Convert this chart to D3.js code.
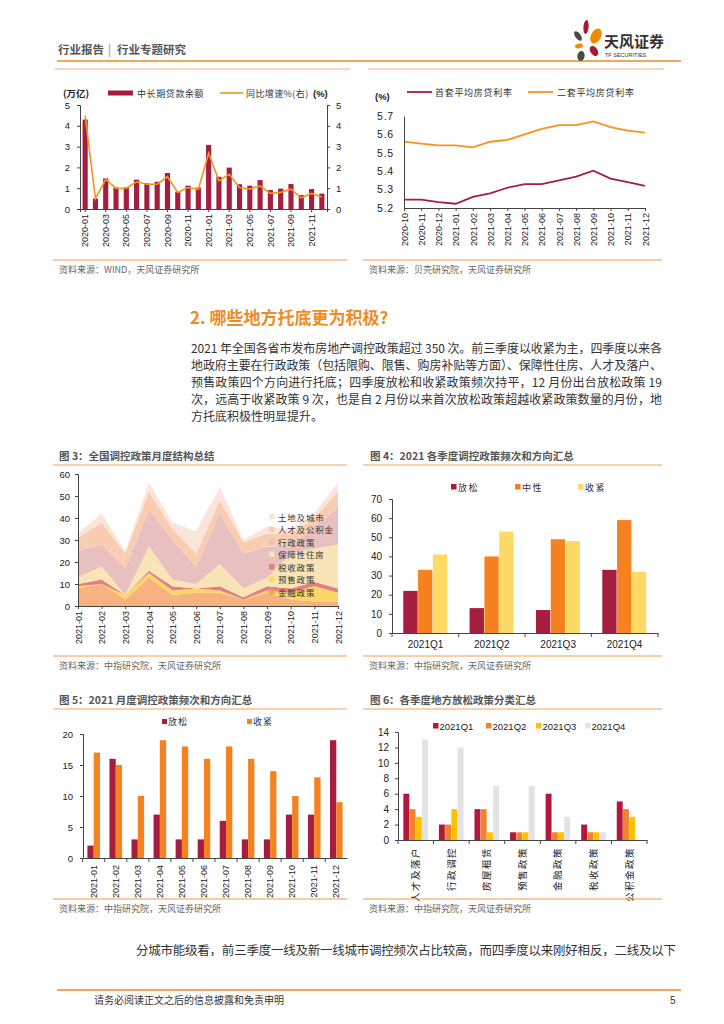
<!DOCTYPE html>
<html><head><meta charset="utf-8">
<script src="https://cdnjs.cloudflare.com/ajax/libs/d3/7.8.5/d3.min.js"></script>
<style>body{margin:0;background:#fff}svg{display:block}</style>
</head><body><svg id="c" width="724" height="1024"></svg>
<script>
// ===== DATA =====
const months1 = ["2020-01","2020-02","2020-03","2020-04","2020-05","2020-06","2020-07","2020-08","2020-09","2020-10","2020-11","2020-12","2021-01","2021-02","2021-03","2021-04","2021-05","2021-06","2021-07","2021-08","2021-09","2021-10","2021-11","2021-12"];
const xLabels1 = ["2020-01","2020-03","2020-05","2020-07","2020-09","2020-11","2021-01","2021-03","2021-05","2021-07","2021-09","2021-11"];
const loanBalance = [4.3,0.5,1.47,1.04,1.04,1.41,1.23,1.31,1.73,0.83,1.12,1.03,3.08,1.55,1.99,1.19,1.12,1.39,0.91,0.98,1.2,0.67,0.96,0.74];
const loanGrowth = [4.49,0.5,1.43,0.99,1.0,1.31,1.19,1.19,1.55,0.8,1.03,0.95,2.68,1.36,1.67,1.03,0.96,1.11,0.75,0.8,0.95,0.54,0.75,0.58];
const yTicks1 = [0,1,2,3,4,5];

const months2 = ["2020-10","2020-11","2020-12","2021-01","2021-02","2021-03","2021-04","2021-05","2021-06","2021-07","2021-08","2021-09","2021-10","2021-11","2021-12"];
const firstRate = [5.245,5.245,5.232,5.223,5.26,5.28,5.31,5.33,5.33,5.35,5.37,5.403,5.36,5.34,5.32];
const secondRate = [5.561,5.55,5.54,5.54,5.53,5.56,5.57,5.60,5.63,5.65,5.65,5.671,5.64,5.62,5.61];
const yTicks2 = [5.2,5.3,5.4,5.5,5.6,5.7];

const months3 = ["2021-01","2021-02","2021-03","2021-04","2021-05","2021-06","2021-07","2021-08","2021-09","2021-10","2021-11","2021-12"];
const policyTypes = ["金融政策","预售政策","税收政策","保障性住房","行政政策","人才及公积金","土地及城市"];
const finance = [8,10,3,13,5,6,6,3,6,3,2,2];
const presale = [1,0,2,2,2,2,1,0,1,3,7,4];
const tax = [1,2,0,1,2,0,2,1,2,2,2,2];
const housing = [3,6,0,11,3,2,10,4,4,16,15,20];
const admin = [12,10,12,17,18,8,23,16,14,3,10,17];
const talent = [6,10,7,8,5,6,6,5,6,6,4,7];
const land = [2,4,1,4,3,10,6,1,3,2,2,4];
const yTicks3 = [0,10,20,30,40,50,60];

const quarters = ["2021Q1","2021Q2","2021Q3","2021Q4"];
const directions = ["放松","中性","收紧"];
const loosen4 = [22,13,12,33];
const neutral4 = [33,40,49,59];
const tighten4 = [41,53,48,32];
const yTicks4 = [0,10,20,30,40,50,60,70];

const directions5 = ["放松","收紧"];
const loosen5 = [2,16,3,7,3,3,6,3,3,7,7,19];
const tighten5 = [17,15,10,19,18,16,18,16,14,10,13,9];
const yTicks5 = [0,5,10,15,20];

const categories6 = ["人才及落户","行政调控","房屋租赁","预售政策","金融政策","税收政策","公积金政策"];
const seasons6 = ["2021Q1","2021Q2","2021Q3","2021Q4"];
const q1_6 = [6,2,4,1,6,2,5];
const q2_6 = [4,2,4,1,1,1,4];
const q3_6 = [3,4,1,1,1,1,3];
const q4_6 = [13,12,7,7,3,1,0];
const yTicks6 = [0,2,4,6,8,10,12,14];

const paragraph = [
 "2021 年全国各省市发布房地产调控政策超过 350 次。前三季度以收紧为主，四季度以来各",
 "地政府主要在行政政策（包括限购、限售、购房补贴等方面）、保障性住房、人才及落户、",
 "预售政策四个方向进行托底；四季度放松和收紧政策频次持平，12 月份出台放松政策 19",
 "次，远高于收紧政策 9 次，也是自 2 月份以来首次放松政策超越收紧政策数量的月份，地",
 "方托底积极性明显提升。"
];

// ===== STYLE =====
const CN = '"Noto Sans CJK SC","Liberation Sans",sans-serif';
const NUM = '"Liberation Sans","Noto Sans CJK SC",sans-serif';
const CRIMSON = "#A51E3F", ORANGE = "#F5821F", LINE_OR = "#F7931E";
const svg = d3.select("#c");

function txt(x, y, s, size, opts = {}) {
  const t = svg.append("text").attr("x", x).attr("y", y).text(s)
    .style("font-family", opts.font || CN).style("font-size", size + "px")
    .attr("fill", opts.fill || "#333");
  if (opts.weight) t.style("font-weight", opts.weight);
  if (opts.anchor) t.attr("text-anchor", opts.anchor);
  if (opts.ls) t.style("letter-spacing", opts.ls + "px");
  if (opts.len) t.attr("textLength", opts.len).attr("lengthAdjust", "spacing");
  return t;
}
function hline(x1, x2, y, color, w) {
  svg.append("line").attr("x1", x1).attr("x2", x2).attr("y1", y).attr("y2", y)
    .attr("stroke", color).attr("stroke-width", w);
}
function styleAxis(g, size) {
  g.select(".domain").attr("stroke", "#444");
  g.selectAll(".tick line").attr("stroke", "#444");
  g.selectAll("text").attr("fill", "#222").style("font-family", NUM).style("font-size", (size || 9.5) + "px");
}
function rotateLabels(g, off) {
  g.selectAll("text").attr("transform", "rotate(-90)").attr("text-anchor", "end")
    .attr("x", -off).attr("y", 0).attr("dy", "0.35em");
}

// ===== HEADER =====
txt(58, 54, "行业报告", 11.5, {fill: "#555", weight: 700});
txt(108, 54, "|", 11.5, {fill: "#888"});
txt(117, 54, "行业专题研究", 11.5, {fill: "#555", weight: 700});
hline(57, 681, 61, "#F08A24", 1.5);
// logo
const logo = svg.append("g");
[[586,27,2.6,7,5,"#A6192E"],[578,36,2.8,5.5,-35,"#4A4A4A"],[596,36,5,8,28,"#F08A00"],
 [579,46,4,2.4,-10,"#F08A00"],[594,51,3.6,5.5,-35,"#A6192E"],[581,56,3.6,5,10,"#4A4A4A"]]
 .forEach(p => logo.append("ellipse").attr("cx", p[0]).attr("cy", p[1]).attr("rx", p[2]).attr("ry", p[3])
   .attr("transform", `rotate(${p[4]},${p[0]},${p[1]})`).attr("fill", p[5]));
txt(604, 47, "天风证券", 15, {fill: "#333", weight: 700});
txt(605, 57, "TF SECURITIES", 5.5, {fill: "#333", font: NUM});

hline(55, 350, 69, "#F8C9A0", 1.5);
hline(368, 664, 69, "#F8C9A0", 1.5);

// ===== CHART 1 =====
{
  const x = d3.scaleBand().domain(months1).range([80, 327]).paddingInner(0.5).paddingOuter(0.25);
  const yL = d3.scaleLinear().domain([0, 5]).range([209, 105]);
  const yR = d3.scaleLinear().domain([0, 5]).range([209, 105]);
  const g = svg.append("g");
  g.selectAll("rect.b").data(loanBalance).enter().append("rect")
    .attr("x", (d, i) => x(months1[i])).attr("width", x.bandwidth())
    .attr("y", d => yL(d)).attr("height", d => yL(0) - yL(d)).attr("fill", CRIMSON);
  const line = d3.line().x((d, i) => x(months1[i]) + x.bandwidth() / 2).y(d => yR(d));
  g.append("path").datum(loanGrowth).attr("d", line).attr("fill", "none").attr("stroke", LINE_OR).attr("stroke-width", 1.6);
  const al = svg.append("g").attr("transform", "translate(80,0)").call(d3.axisLeft(yL).tickValues(yTicks1).tickSize(3).tickPadding(7).tickFormat(d3.format("d")));
  styleAxis(al, 9.5);
  const ar = svg.append("g").attr("transform", "translate(327,0)").call(d3.axisRight(yR).tickValues(yTicks1).tickSize(3).tickPadding(6).tickFormat(d3.format("d")));
  styleAxis(ar, 9.5);
  const ab = svg.append("g").attr("transform", "translate(0,209)").call(d3.axisBottom(x).tickValues(xLabels1).tickSize(3));
  styleAxis(ab, 9); rotateLabels(ab, 5);
  // legend
  txt(63, 96.5, "(万亿)", 9.5, {weight: 700, fill: "#222"});
  svg.append("rect").attr("x", 108).attr("y", 90.5).attr("width", 25).attr("height", 5).attr("fill", CRIMSON);
  txt(137, 96.5, "中长期贷款余额", 9, {ls: 0.6, fill: "#333"});
  hline(220, 243, 93, LINE_OR, 1.6);
  txt(246, 96.5, "同比增速%(右)", 9, {ls: 0.4, fill: "#333"});
  txt(313, 96.5, "(%)", 9.5, {weight: 700, fill: "#222", font: NUM});
  hline(53, 347, 260, "#F39C4A", 1);
  txt(59, 273, "资料来源：WIND，天风证券研究所", 9, {fill: "#666"});
}

// ===== CHART 2 =====
{
  const x = d3.scalePoint().domain(months2).range([404, 645]);
  const y = d3.scaleLinear().domain([5.2, 5.7]).range([208, 116]);
  const line = d3.line().x((d, i) => x(months2[i])).y(d => y(d));
  svg.append("path").datum(secondRate).attr("d", line).attr("fill", "none").attr("stroke", LINE_OR).attr("stroke-width", 1.8);
  svg.append("path").datum(firstRate).attr("d", line).attr("fill", "none").attr("stroke", CRIMSON).attr("stroke-width", 1.8);
  const al = svg.append("g").attr("transform", "translate(404,0)").call(d3.axisLeft(y).tickValues(yTicks2).tickSize(0).tickPadding(10).tickFormat(d3.format(".1f")));
  styleAxis(al, 10.5);
  al.selectAll("text").style("letter-spacing", "0.8px");
  const ab = svg.append("g").attr("transform", "translate(0,208)").call(d3.axisBottom(x).tickSize(3));
  styleAxis(ab, 9); rotateLabels(ab, 5);
  txt(375, 100, "(%)", 9.5, {weight: 700, fill: "#222", font: NUM});
  hline(407, 432, 92, CRIMSON, 1.8);
  txt(435, 95.5, "首套平均房贷利率", 9, {ls: 0.7});
  hline(528, 553, 92, LINE_OR, 1.8);
  txt(557, 95.5, "二套平均房贷利率", 9, {ls: 0.7});
  hline(363, 662, 260, "#F39C4A", 1);
  txt(369, 273, "资料来源：贝壳研究院，天风证券研究所", 9, {fill: "#666"});
}

// ===== SECTION TEXT =====
txt(190, 324, "2. 哪些地方托底更为积极?", 17, {fill: "#F08A24", weight: 700});
paragraph.forEach((s, i) => {
  const t = txt(191, 353 + i * 17, s, 12, {fill: "#333"});
  if (i < paragraph.length - 1) t.attr("textLength", 471).attr("lengthAdjust", "spacing");
});

// ===== CHART 3 =====
{
  txt(59, 460, "图 3：全国调控政策月度结构总结", 10.5, {weight: 700, fill: "#555"});
  hline(53, 347, 465, "#F8C090", 1.5);
  const series = [finance, presale, tax, housing, admin, talent, land];
  const colors = ["#F7B27F", "#FCD667", "#E2817F", "#F9E4B5", "#E8C0C0", "#F8CDB2", "#FBE4D9"];
  const rows = months3.map((m, i) => { const o = {month: m}; policyTypes.forEach((k, j) => o[k] = series[j][i]); return o; });
  const stack = d3.stack().keys(policyTypes)(rows);
  const x = d3.scalePoint().domain(months3).range([78, 338]);
  const y = d3.scaleLinear().domain([0, 60]).range([606, 474]);
  const area = d3.area().x(d => x(d.data.month)).y0(d => y(d[0])).y1(d => y(d[1]));
  svg.append("g").selectAll("path").data(stack).enter().append("path")
    .attr("d", area).attr("fill", (d, i) => colors[i]);
  const al = svg.append("g").attr("transform", "translate(78,0)").call(d3.axisLeft(y).tickValues(yTicks3).tickSize(3).tickPadding(5));
  styleAxis(al, 9.5);
  const ab = svg.append("g").attr("transform", "translate(0,606)").call(d3.axisBottom(x).tickSize(3));
  styleAxis(ab, 9); rotateLabels(ab, 5);
  const order = policyTypes.slice().reverse();
  order.forEach((k, i) => {
    const ci = policyTypes.indexOf(k);
    svg.append("rect").attr("x", 269).attr("y", 514 + i * 12.5).attr("width", 5.5).attr("height", 5.5).attr("fill", ci === 0 ? "#F5A04A" : colors[ci]);
    txt(278, 520.5 + i * 12.5, k, 8.5, {ls: 0.8, fill: "#333"});
  });
  hline(53, 347, 656, "#F39C4A", 1);
  txt(59, 669, "资料来源：中指研究院，天风证券研究所", 9, {fill: "#666"});
}

// ===== CHART 4 =====
{
  txt(370, 460, "图 4：2021 各季度调控政策频次和方向汇总", 10.5, {weight: 700, fill: "#555"});
  hline(363, 662, 465, "#F8C090", 1.5);
  const vals = [loosen4, neutral4, tighten4];
  const colors = [CRIMSON, ORANGE, "#FFD966"];
  const x = d3.scaleBand().domain(quarters).range([392, 658]).paddingInner(0.33).paddingOuter(0.17);
  const xs = d3.scaleBand().domain(directions).range([0, x.bandwidth()]);
  const y = d3.scaleLinear().domain([0, 70]).range([633, 499]);
  directions.forEach((k, j) => {
    svg.append("g").selectAll("rect").data(vals[j]).enter().append("rect")
      .attr("x", (d, i) => x(quarters[i]) + xs(k)).attr("width", xs.bandwidth() - 0.5)
      .attr("y", d => y(d)).attr("height", d => y(0) - y(d)).attr("fill", colors[j]);
  });
  const al = svg.append("g").attr("transform", "translate(392,0)").call(d3.axisLeft(y).tickValues(yTicks4).tickSize(3).tickPadding(7));
  styleAxis(al, 10);
  const ab = svg.append("g").attr("transform", "translate(0,633)").call(d3.axisBottom(x).tickSize(0).tickPadding(8));
  styleAxis(ab, 10);
  const bounds = [x.range()[0]].concat(quarters.map(q => x(q) + x.bandwidth() + x.step() * x.paddingInner() / 2));
  bounds[bounds.length - 1] = x.range()[1];
  bounds.forEach(b => svg.append("line").attr("x1", b).attr("x2", b).attr("y1", 633).attr("y2", 637).attr("stroke", "#444"));
  const lx = [451, 515, 578];
  directions.forEach((k, j) => {
    svg.append("rect").attr("x", lx[j]).attr("y", 484).attr("width", 5.5).attr("height", 5.5).attr("fill", colors[j]);
    txt(lx[j] + 7, 490.5, k, 9, {ls: 1.5});
  });
  hline(363, 662, 656, "#F39C4A", 1);
  txt(369, 669, "资料来源：中指研究院，天风证券研究所", 9, {fill: "#666"});
}

// ===== CHART 5 =====
{
  txt(59, 704, "图 5：2021 月度调控政策频次和方向汇总", 10.5, {weight: 700, fill: "#555"});
  hline(53, 347, 709, "#F8C090", 1.5);
  const vals = [loosen5, tighten5];
  const colors = [CRIMSON, ORANGE];
  const x = d3.scaleBand().domain(months3).range([83, 347]).paddingInner(0.43).paddingOuter(0.2);
  const xs = d3.scaleBand().domain(directions5).range([0, x.bandwidth()]);
  const y = d3.scaleLinear().domain([0, 20]).range([858, 734]);
  directions5.forEach((k, j) => {
    svg.append("g").selectAll("rect").data(vals[j]).enter().append("rect")
      .attr("x", (d, i) => x(months3[i]) + xs(k)).attr("width", xs.bandwidth())
      .attr("y", d => y(d)).attr("height", d => y(0) - y(d)).attr("fill", colors[j]);
  });
  const al = svg.append("g").attr("transform", "translate(83,0)").call(d3.axisLeft(y).tickValues(yTicks5).tickSize(3).tickPadding(7));
  styleAxis(al, 9.5);
  const ab = svg.append("g").attr("transform", "translate(0,858)").call(d3.axisBottom(x).tickSize(0).tickPadding(0));
  styleAxis(ab, 9); rotateLabels(ab, 7);
  months3.forEach(m => {
    const b = x(m) - x.step() * x.paddingInner() / 2;
    svg.append("line").attr("x1", b).attr("x2", b).attr("y1", 858).attr("y2", 862).attr("stroke", "#444");
  });
  const lx = [162, 247];
  directions5.forEach((k, j) => {
    svg.append("rect").attr("x", lx[j]).attr("y", 719).attr("width", 5).attr("height", 5).attr("fill", colors[j]);
    txt(lx[j] + 6, 725, k, 9, {ls: 1});
  });
  hline(53, 347, 899, "#F39C4A", 1);
  txt(59, 912, "资料来源：中指研究院，天风证券研究所", 9, {fill: "#666"});
}

// ===== CHART 6 =====
{
  txt(370, 704, "图 6：各季度地方放松政策分类汇总", 10.5, {weight: 700, fill: "#555"});
  hline(363, 662, 709, "#F8C090", 1.5);
  const vals = [q1_6, q2_6, q3_6, q4_6];
  const colors = ["#B3173A", "#F5822A", "#FFC000", "#E3E3E3"];
  const x = d3.scaleBand().domain(categories6).range([398, 647]).paddingInner(0.3).paddingOuter(0.15);
  const xs = d3.scaleBand().domain(seasons6).range([0, x.bandwidth()]);
  const y = d3.scaleLinear().domain([0, 14]).range([840, 732]);
  seasons6.forEach((k, j) => {
    svg.append("g").selectAll("rect").data(vals[j]).enter().append("rect")
      .attr("x", (d, i) => x(categories6[i]) + xs(k)).attr("width", xs.bandwidth() - 0.3)
      .attr("y", d => y(d)).attr("height", d => y(0) - y(d)).attr("fill", colors[j]);
  });
  const al = svg.append("g").attr("transform", "translate(398,0)").call(d3.axisLeft(y).tickValues(yTicks6).tickSize(3).tickPadding(6));
  styleAxis(al, 10);
  const ab = svg.append("g").attr("transform", "translate(0,840)").call(d3.axisBottom(x).tickSize(0));
  styleAxis(ab, 9.5); rotateLabels(ab, 7);
  ab.selectAll("text").style("font-family", CN).style("letter-spacing", "1.5px");
  const bounds = [x.range()[0]].concat(categories6.map(c => x(c) + x.bandwidth() + x.step() * x.paddingInner() / 2));
  bounds[bounds.length - 1] = x.range()[1];
  bounds.forEach(b => svg.append("line").attr("x1", b).attr("x2", b).attr("y1", 840).attr("y2", 844).attr("stroke", "#444"));
  const lx = [433, 486, 536, 585];
  seasons6.forEach((k, j) => {
    svg.append("rect").attr("x", lx[j]).attr("y", 723).attr("width", 5.5).attr("height", 5.5).attr("fill", colors[j]);
    txt(lx[j] + 6.5, 729.5, k, 9.5, {font: NUM, fill: "#222"});
  });
  hline(363, 662, 899, "#F39C4A", 1);
  txt(369, 912, "资料来源：中指研究院，天风证券研究所", 9, {fill: "#666"});
}

// ===== BOTTOM =====
txt(136, 955, "分城市能级看，前三季度一线及新一线城市调控频次占比较高，而四季度以来刚好相反，二线及以下", 12.5, {fill: "#333", len: 540});
hline(57, 681, 990, "#F08A24", 1.5);
txt(94, 1004, "请务必阅读正文之后的信息披露和免责申明", 10, {fill: "#333"});
txt(670, 1004, "5", 10, {fill: "#333", font: NUM});
</script></body></html>
